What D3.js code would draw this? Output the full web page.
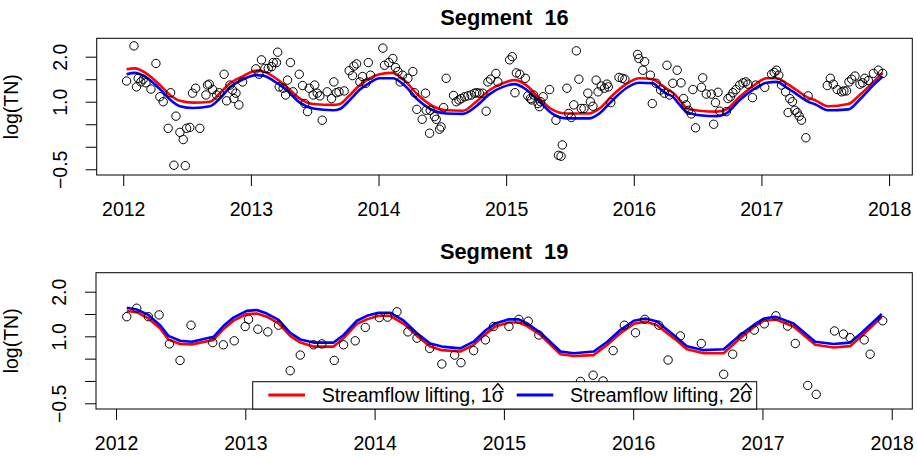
<!DOCTYPE html>
<html>
<head>
<meta charset="utf-8">
<script src="https://cdn.jsdelivr.net/npm/d3@7"></script>
<style>
  html, body { margin: 0; padding: 0; background: #fff; }
  svg { display: block; font-family: "Liberation Sans", Arial, Helvetica, sans-serif; }
</style>
</head>
<body>
<svg id="chart" width="917" height="460"></svg>
<script>
// ---- Segment 16: observed log(TN) ----
const seg16Dates = [
  2012.026,2012.084,2012.104,2012.117,2012.138,2012.157,2012.178,2012.217,2012.256,2012.287,
  2012.313,2012.352,2012.371,2012.397,2012.413,2012.444,2012.470,2012.486,2012.496,2012.522,
  2012.543,2012.567,2012.600,2012.648,2012.660,2012.674,2012.700,2012.731,2012.752,2012.790,
  2012.810,2012.836,2012.856,2012.867,2012.883,2012.906,2012.935,2013.039,2013.063,2013.083,
  2013.110,2013.136,2013.162,2013.175,2013.200,2013.210,2013.222,2013.253,2013.272,2013.287,
  2013.310,2013.330,2013.379,2013.405,2013.423,2013.444,2013.457,2013.488,2013.500,2013.520,
  2013.540,2013.559,2013.598,2013.632,2013.650,2013.670,2013.690,2013.731,2013.770,2013.796,
  2013.807,2013.828,2013.854,2013.875,2013.900,2013.920,2013.937,
  2014.034,2014.047,2014.081,2014.112,2014.133,2014.152,2014.170,2014.188,2014.230,2014.269,
  2014.282,2014.300,2014.342,2014.368,2014.374,2014.400,2014.405,2014.439,2014.452,2014.478,
  2014.490,2014.510,2014.530,2014.588,2014.609,2014.630,2014.648,2014.674,2014.700,2014.726,
  2014.752,2014.770,2014.790,2014.817,2014.843,2014.857,2014.878,2014.920,2014.935,2015.027,
  2015.048,2015.069,2015.080,2015.107,2015.150,2015.170,2015.190,2015.200,2015.215,2015.250,
  2015.260,2015.270,2015.290,2015.340,2015.390,2015.410,2015.430,2015.440,2015.476,2015.490,
  2015.510,2015.530,2015.550,2015.570,2015.588,2015.610,2015.640,2015.660,2015.680,2015.705,
  2015.720,2015.745,2015.770,2015.790,2015.800,2015.820,2015.884,2015.910,2015.930,2016.030,
  2016.040,2016.070,2016.085,2016.130,2016.145,2016.175,2016.210,2016.240,2016.260,2016.280,
  2016.306,2016.340,
  2016.370,2016.390,2016.410,2016.430,2016.450,2016.463,2016.484,2016.530,2016.540,2016.568,
  2016.607,2016.626,2016.640,2016.660,2016.673,2016.725,2016.738,2016.757,2016.777,2016.800,
  2016.830,2016.856,2016.877,2016.895,2016.930,2016.955,2017.026,2017.080,2017.100,2017.118,
  2017.136,2017.157,2017.190,2017.209,2017.222,2017.243,2017.262,2017.280,2017.296,2017.314,
  2017.348,2017.366,2017.516,2017.540,2017.563,2017.594,2017.628,2017.646,2017.667,2017.686,
  2017.707,2017.733,2017.772,2017.793,2017.810,2017.838,2017.877,2017.916,2017.950
];
const seg16Values = [
  1.46,2.24,1.33,1.52,1.44,1.50,1.42,1.28,1.85,1.11,
  1.00,0.41,1.20,-0.41,0.68,0.32,0.16,-0.42,0.41,0.43,
  1.19,1.30,0.41,1.15,1.37,1.39,1.27,1.15,1.20,1.61,
  1.02,1.37,1.26,1.07,1.19,0.93,1.44,1.73,1.61,1.93,
  1.74,1.74,1.78,1.87,1.87,2.10,1.33,1.30,1.15,1.48,
  1.87,1.22,1.61,1.36,0.96,0.78,1.30,1.15,1.37,1.19,
  1.13,0.59,1.22,1.07,1.44,1.20,1.22,1.24,1.69,1.58,
  1.79,1.84,1.44,1.56,1.41,1.87,1.59,
  2.19,1.81,1.87,1.96,1.76,1.67,1.44,1.59,1.52,1.67,
  1.20,0.83,0.61,1.19,0.81,0.30,0.81,0.67,0.61,0.39,
  0.44,0.87,1.52,1.14,1.00,1.04,1.07,1.11,1.13,1.15,
  1.19,1.20,1.19,1.19,0.79,1.44,1.50,1.63,1.44,1.93,
  2.00,1.20,1.64,1.61,1.52,1.13,1.07,1.04,1.15,0.96,
  0.89,1.00,1.11,1.27,0.59,-0.19,-0.21,0.04,1.30,0.74,
  0.65,0.93,2.13,1.50,0.85,0.85,1.19,1.00,0.90,1.48,
  1.22,1.35,1.30,1.39,1.33,0.98,1.54,1.52,1.50,2.05,
  1.96,1.70,1.89,1.59,0.96,1.41,1.26,1.19,1.81,1.15,
  1.41,1.70,
  1.42,1.07,0.93,0.81,0.73,1.27,0.42,1.32,1.53,1.17,
  1.17,0.50,0.98,1.21,0.79,0.78,1.07,1.11,1.20,1.27,
  1.37,1.42,1.44,1.39,1.09,1.37,1.32,1.61,1.65,1.70,
  1.59,1.37,1.22,0.76,1.07,1.00,0.81,0.76,0.68,0.59,
  0.20,1.13,1.36,1.52,1.39,1.27,1.22,1.24,1.24,1.44,
  1.50,1.57,1.39,1.42,1.52,1.47,1.63,1.70,1.63
];

// ---- Segment 16: fitted curves ----
const seg16FitDates = [
  2012.026,2012.090,2012.180,2012.287,2012.366,2012.444,2012.548,2012.680,2012.757,2012.836,
  2012.940,2013.044,2013.097,2013.175,2013.280,2013.384,2013.488,2013.645,2013.697,2013.776,
  2013.854,2013.930,2014.008,2014.112,2014.200,2014.310,2014.426,2014.530,2014.660,2014.765,
  2014.870,2014.975,2015.066,2015.157,2015.262,2015.358,2015.470,2015.650,2015.730,2015.836,
  2015.940,2016.045,2016.150,2016.200,2016.254,2016.306,2016.360,2016.410,2016.516,2016.647,
  2016.725,2016.830,2016.935,2017.040,2017.118,2017.196,2017.275,2017.353,2017.430,2017.520,
  2017.680,2017.770,2017.877,2017.950
];
const seg16Fit1 = [
  1.72,1.74,1.63,1.37,1.15,1.02,0.98,1.00,1.19,1.41,
  1.57,1.69,1.67,1.56,1.33,1.07,0.95,0.93,0.95,1.15,
  1.37,1.52,1.61,1.64,1.48,1.15,0.90,0.81,0.80,1.00,
  1.26,1.41,1.48,1.37,1.07,0.83,0.74,0.74,0.85,1.15,
  1.39,1.52,1.50,1.41,1.30,1.20,1.04,0.87,0.80,0.78,
  0.83,1.11,1.35,1.52,1.52,1.41,1.26,1.11,1.02,0.90,
  0.95,1.15,1.44,1.64
];
const seg16Fit2 = [
  1.61,1.64,1.54,1.28,1.05,0.90,0.86,0.90,1.07,1.32,
  1.50,1.59,1.58,1.47,1.26,0.98,0.85,0.81,0.84,1.04,
  1.27,1.42,1.52,1.52,1.37,1.04,0.81,0.74,0.73,0.90,
  1.17,1.33,1.39,1.27,1.00,0.74,0.63,0.63,0.74,1.04,
  1.30,1.42,1.41,1.30,1.18,1.11,0.93,0.78,0.70,0.68,
  0.74,1.04,1.27,1.42,1.44,1.32,1.17,1.02,0.93,0.81,
  0.83,1.05,1.37,1.56
];

// ---- Segment 19: observed log(TN) ----
const seg19Dates = [
  2012.083,2012.160,2012.250,2012.333,2012.413,2012.495,2012.580,2012.748,2012.830,2012.914,
  2012.999,2013.025,2013.097,2013.174,2013.257,2013.347,2013.425,2013.528,2013.592,2013.688,
  2013.760,2013.850,2013.928,2014.036,2014.100,2014.173,2014.258,2014.328,2014.426,2014.520,
  2014.619,2014.668,2014.766,2014.857,2014.920,2015.039,2015.116,2015.188,2015.270,2015.592,
  2015.690,2015.767,2015.845,2015.932,2016.018,2016.090,2016.198,2016.270,2016.365,2016.527,
  2016.700,2016.770,2016.846,2016.937,2017.014,2017.104,2017.194,2017.254,2017.350,2017.416,
  2017.557,2017.627,2017.678,2017.787,2017.833,2017.930
];
const seg19Values = [
  1.44,1.63,1.44,1.48,0.83,0.46,1.25,0.86,0.81,0.90,
  1.22,1.38,1.16,1.10,1.25,0.23,0.58,0.81,0.83,0.46,
  0.81,0.90,1.20,1.42,1.43,1.55,1.10,0.96,0.73,0.38,
  0.58,0.41,0.68,0.92,1.22,1.22,1.38,1.34,1.03,-0.01,
  0.13,0.00,0.68,1.25,1.08,1.38,1.25,0.47,1.01,0.84,
  0.15,0.60,0.99,1.14,1.28,1.46,1.23,0.84,-0.10,-0.30,
  1.12,1.05,0.97,0.92,0.60,1.35
];

// ---- Segment 19: fitted curves ----
const seg19FitDates = [
  2012.083,2012.160,2012.250,2012.340,2012.405,2012.495,2012.586,2012.754,2012.830,2012.908,
  2013.010,2013.089,2013.166,2013.257,2013.347,2013.425,2013.528,2013.683,2013.760,2013.863,
  2013.940,2014.030,2014.120,2014.225,2014.328,2014.430,2014.520,2014.663,2014.766,2014.857,
  2014.934,2015.039,2015.116,2015.180,2015.283,2015.438,2015.540,2015.695,2015.800,2015.900,
  2016.005,2016.095,2016.185,2016.313,2016.416,2016.545,2016.700,2016.828,2016.930,2017.010,
  2017.100,2017.240,2017.408,2017.550,2017.678,2017.768,2017.923
];
const seg19Fit1 = [
  1.57,1.54,1.40,1.18,0.93,0.83,0.82,0.92,1.16,1.35,
  1.50,1.51,1.44,1.29,1.01,0.86,0.77,0.77,0.96,1.28,
  1.38,1.46,1.46,1.28,1.01,0.77,0.69,0.66,0.81,1.05,
  1.22,1.31,1.31,1.23,1.03,0.60,0.56,0.58,0.81,1.07,
  1.28,1.33,1.25,0.96,0.71,0.62,0.62,0.96,1.20,1.35,
  1.38,1.22,0.81,0.75,0.78,1.01,1.43
];
const seg19Fit2 = [
  1.64,1.60,1.48,1.25,1.01,0.90,0.88,0.99,1.23,1.42,
  1.57,1.59,1.51,1.37,1.08,0.93,0.86,0.86,1.03,1.35,
  1.46,1.53,1.53,1.35,1.07,0.84,0.77,0.73,0.88,1.13,
  1.29,1.38,1.38,1.29,1.08,0.66,0.62,0.66,0.88,1.14,
  1.35,1.40,1.33,1.03,0.78,0.69,0.71,1.03,1.25,1.40,
  1.44,1.29,0.88,0.83,0.86,1.08,1.50
];

// ---- Axis ticks and labels ----
const xTickValues = [2012, 2013, 2014, 2015, 2016, 2017, 2018];
const yTickValues = [-0.5, 0, 0.5, 1.0, 1.5, 2.0];
const yTickLabels = ["\u22120.5", "", "", "1.0", "", "2.0"];  // crowded labels are dropped
const seriesNames = ["Streamflow lifting, 1", "Streamflow lifting, 2"];
const seriesColors = ["#ff0000", "#0000ff"];

// ---- Layout ----
const FONT = 19.5;
const TITLE_FONT = 21.8;
const panels = [
  { title: "Segment  16", dates: seg16Dates, values: seg16Values,
    fitDates: seg16FitDates, fits: [seg16Fit1, seg16Fit2], curve: d3.curveMonotoneX,
    left: 96.7, right: 912.3, top: 38.3, bottom: 175,
    xDomain: [2011.792, 2018.182], yDomain: [-0.627, 2.4085], titleY: 25, legend: false },
  { title: "Segment  19", dates: seg19Dates, values: seg19Values,
    fitDates: seg19FitDates, fits: [seg19Fit1, seg19Fit2], curve: d3.curveLinear,
    left: 96, right: 912.3, top: 272.7, bottom: 409,
    xDomain: [2011.845, 2018.159], yDomain: [-0.628, 2.4256], titleY: 259, legend: true }
];

const svg = d3.select("#chart");
svg.append("rect").attr("width", 917).attr("height", 460).attr("fill", "#fff");

panels.forEach(p => {
  const x = d3.scaleLinear().domain(p.xDomain).range([p.left, p.right]);
  const y = d3.scaleLinear().domain(p.yDomain).range([p.bottom, p.top]);
  const g = svg.append("g");

  // fitted curves
  p.fits.forEach((vals, i) => {
    const line = d3.line()
      .x((d, j) => x(p.fitDates[j]))
      .y(d => y(d))
      .curve(p.curve);
    g.append("path")
      .attr("d", line(vals))
      .attr("fill", "none")
      .attr("stroke", seriesColors[i])
      .attr("stroke-width", 2.6)
      .attr("stroke-linejoin", "round");
  });

  // observations
  g.append("g").selectAll("circle")
    .data(p.values)
    .join("circle")
    .attr("cx", (d, i) => x(p.dates[i]))
    .attr("cy", d => y(d))
    .attr("r", 4.2)
    .attr("fill", "none")
    .attr("stroke", "#000")
    .attr("stroke-width", 1);

  // x axis
  const xa = g.append("g")
    .attr("transform", `translate(0,${p.bottom})`)
    .call(d3.axisBottom(x).tickValues(xTickValues).tickFormat(d3.format("d"))
      .tickSize(11).tickSizeOuter(0).tickPadding(16.5));
  xa.select(".domain").remove();
  xa.selectAll("line").attr("stroke", "#000");
  xa.selectAll("text").attr("font-size", FONT).attr("fill", "#000")
    .attr("font-family", "Liberation Sans, Arial, sans-serif");

  // y axis (labels parallel to the axis)
  const ya = g.append("g")
    .attr("transform", `translate(${p.left},0)`)
    .call(d3.axisLeft(y).tickValues(yTickValues).tickFormat((d, i) => yTickLabels[i])
      .tickSize(11).tickSizeOuter(0));
  ya.select(".domain").remove();
  ya.selectAll("line").attr("stroke", "#000");
  ya.selectAll("text")
    .attr("x", 0).attr("y", 0).attr("dy", null)
    .attr("transform", "translate(-30,0) rotate(-90)")
    .attr("text-anchor", "middle")
    .attr("font-size", FONT).attr("fill", "#000")
    .attr("font-family", "Liberation Sans, Arial, sans-serif");

  // plot frame
  g.append("rect")
    .attr("x", p.left).attr("y", p.top)
    .attr("width", p.right - p.left).attr("height", p.bottom - p.top)
    .attr("fill", "none").attr("stroke", "#000").attr("stroke-width", 1);

  // title
  g.append("text")
    .attr("x", (p.left + p.right) / 2).attr("y", p.titleY)
    .attr("text-anchor", "middle")
    .attr("font-size", TITLE_FONT).attr("font-weight", "bold")
    .style("white-space", "pre")
    .attr("xml:space", "preserve")
    .text(p.title);

  // y label
  g.append("text")
    .attr("transform", `translate(18,${(p.top + p.bottom) / 2}) rotate(-90)`)
    .attr("text-anchor", "middle")
    .attr("font-size", FONT)
    .text("log(TN)");

  if (p.legend) drawLegend(g, p);
});

function drawLegend(g, p) {
  const boxL = 252.7, boxR = 756.7, boxT = 381.7, boxB = p.bottom;
  const lineY = 395, baseY = 402;
  const items = [
    { x0: 268.3, x1: 305, tx: 321.7 },
    { x0: 516.7, x1: 553.3, tx: 570 }
  ];
  const lg = g.append("g");
  lg.append("rect")
    .attr("x", boxL).attr("y", boxT)
    .attr("width", boxR - boxL).attr("height", boxB - boxT)
    .attr("fill", "#fff").attr("stroke", "#000").attr("stroke-width", 1);
  items.forEach((it, i) => {
    lg.append("line")
      .attr("x1", it.x0).attr("x2", it.x1).attr("y1", lineY).attr("y2", lineY)
      .attr("stroke", seriesColors[i]).attr("stroke-width", 3);
    const t = lg.append("text")
      .attr("x", it.tx).attr("y", baseY)
      .attr("font-size", FONT);
    t.append("tspan").text(seriesNames[i]);
    t.append("tspan").text("\u03c3");
    // hat over sigma
    const n = seriesNames[i].length;
    const s = t.node().getStartPositionOfChar(n);
    const e = t.node().getEndPositionOfChar(n);
    const cx = (s.x + e.x) / 2, hw = (e.x - s.x) * 0.45;
    lg.append("path")
      .attr("d", `M${cx - hw},${baseY - 12} L${cx},${baseY - 18.5} L${cx + hw},${baseY - 12}`)
      .attr("fill", "none").attr("stroke", "#000").attr("stroke-width", 1.4);
  });
}
</script>
</body>
</html>
